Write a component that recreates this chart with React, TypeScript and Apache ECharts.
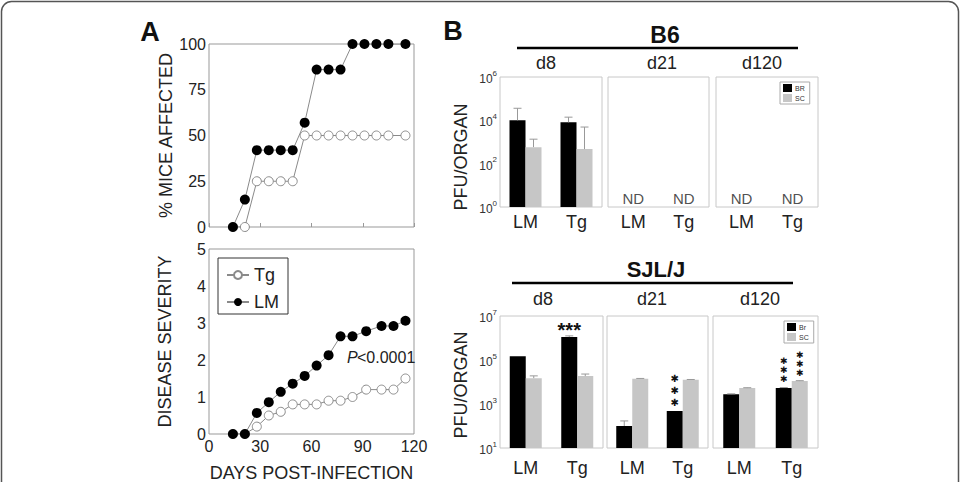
import React, { useEffect, useRef } from 'react';
import * as echarts from 'echarts';

const FONT = '"Liberation Sans", Arial, Helvetica, sans-serif';
const TXT = '#222';

// ---------- Panel A data ----------
const daysAffected = [14, 21, 28, 35, 42, 49, 56, 63, 70, 77, 84, 91, 98, 105, 115];
const lmAffected = [0, 15, 42, 42, 42, 42, 57, 86, 86, 86, 100, 100, 100, 100, 100];
const tgAffected = [0, 0, 25, 25, 25, 25, 50, 50, 50, 50, 50, 50, 50, 50, 50];

const daysSeverity = [14, 21, 28, 35, 42, 49, 56, 63, 70, 77, 84, 92, 101, 108, 115];
const lmSeverity = [0, 0, 0.57, 0.86, 1.14, 1.36, 1.57, 1.85, 2.13, 2.64, 2.64, 2.78, 2.92, 2.92, 3.06];
const tgSeverity = [0, 0, 0.2, 0.5, 0.6, 0.8, 0.8, 0.8, 0.9, 0.9, 1.0, 1.2, 1.2, 1.2, 1.5];

const affectedTicks = [0, 25, 50, 75, 100];
const severityTicks = [0, 1, 2, 3, 4, 5];
const dayTicks = [0, 30, 60, 90, 120];

// ---------- Panel B data ----------
const groups = ['LM', 'Tg'];
const timepoints = ['d8', 'd21', 'd120'];

// B6: [LM, Tg] for each timepoint (null = ND)
const b6Brain = [[1.0e4, 8.1e3], [null, null], [null, null]];
const b6BrainErr = [[3.6e4, 1.4e4], [null, null], [null, null]];
const b6Spinal = [[580, 470], [null, null], [null, null]];
const b6SpinalErr = [[1350, 4900], [null, null], [null, null]];
const b6TickExp = [0, 2, 4, 6];

// SJL/J
const sjlBrain = [[1.5e5, 1.1e6], [100, 480], [2800, 5400]];
const sjlBrainErr = [[null, 1.25e6], [170, null], [2900, 5600]];
const sjlSpinal = [[1.5e4, 1.85e4], [1.4e4, 1.25e4], [5300, 1.1e4]];
const sjlSpinalErr = [[1.9e4, 2.3e4], [1.45e4, 1.3e4], [5500, 1.15e4]];
const sjlBrainStars = [['', '***'], ['', '✱\n✱\n✱'], ['', '✱\n✱\n✱']];
const sjlSpinalStars = [['', ''], ['', ''], ['', '✱\n✱\n✱']];
const sjlTickExp = [1, 3, 5, 7];

function zip(xs: number[], ys: number[]) {
  return xs.map((x, i) => [x, ys[i]]);
}

function buildOption() {
  const b6Grids = [
    { left: 500, top: 77, width: 102, height: 130 },
    { left: 608, top: 77, width: 101, height: 130 },
    { left: 716, top: 77, width: 102, height: 130 },
  ];
  const sjlGrids = [
    { left: 500, top: 316, width: 103, height: 132 },
    { left: 607, top: 316, width: 101, height: 132 },
    { left: 713, top: 316, width: 105, height: 132 },
  ];
  const starStyle = [
    { fontSize: 10, lineHeight: 12, distance: 3 },
    { fontSize: 10, lineHeight: 12, distance: 3 },
    { fontSize: 9, lineHeight: 9, distance: 4 },
  ];

  const grid: any[] = [
    { left: 209, top: 44, width: 205, height: 183, show: true, borderColor: '#999', borderWidth: 1, outerBoundsMode: 'none' },
    { left: 209, top: 249, width: 205, height: 185, show: true, borderColor: '#999', borderWidth: 1, outerBoundsMode: 'none' },
    ...b6Grids.map((g) => ({ ...g, show: true, borderColor: '#c8c8c8', borderWidth: 1, outerBoundsMode: 'none' })),
    ...sjlGrids.map((g) => ({ ...g, show: true, borderColor: '#c8c8c8', borderWidth: 1, outerBoundsMode: 'none' })),
  ];

  const axisLabelA = { fontSize: 16, color: TXT, fontFamily: FONT };
  const xAxis: any[] = [
    {
      type: 'value', gridIndex: 0, min: dayTicks[0], max: dayTicks[dayTicks.length - 1], interval: 30,
      axisLine: { show: false }, axisTick: { show: true, inside: true, length: 4, lineStyle: { color: '#999' } },
      axisLabel: { show: false }, splitLine: { show: false },
    },
    {
      type: 'value', gridIndex: 1, min: dayTicks[0], max: dayTicks[dayTicks.length - 1], interval: 30,
      name: 'DAYS POST-INFECTION', nameLocation: 'middle', nameGap: 30,
      nameTextStyle: { fontSize: 18, color: TXT, fontFamily: FONT },
      axisLine: { show: false }, axisTick: { show: false },
      axisLabel: { ...axisLabelA, margin: 4, showMinLabel: true, showMaxLabel: true },
      splitLine: { show: false },
    },
  ];
  const yAxis: any[] = [
    {
      type: 'value', gridIndex: 0, min: affectedTicks[0], max: affectedTicks[affectedTicks.length - 1], interval: 25,
      name: '% MICE AFFECTED', nameLocation: 'middle', nameGap: 32, nameRotate: 90,
      nameTextStyle: { fontSize: 18, color: TXT, fontFamily: FONT },
      axisLine: { show: false }, axisTick: { show: false },
      axisLabel: { ...axisLabelA, margin: 3, showMinLabel: true, showMaxLabel: true }, splitLine: { show: false },
    },
    {
      type: 'value', gridIndex: 1, min: severityTicks[0], max: severityTicks[severityTicks.length - 1], interval: 1,
      name: 'DISEASE SEVERITY', nameLocation: 'middle', nameGap: 35, nameRotate: 90,
      nameTextStyle: { fontSize: 18, color: TXT, fontFamily: FONT },
      axisLine: { show: false }, axisTick: { show: false },
      axisLabel: { ...axisLabelA, margin: 3, showMinLabel: true, showMaxLabel: true }, splitLine: { show: false },
    },
  ];

  const series: any[] = [
    {
      type: 'line', name: 'Tg', xAxisIndex: 0, yAxisIndex: 0, data: zip(daysAffected, tgAffected),
      symbol: 'circle', symbolSize: 9, showAllSymbol: true, z: 2,
      lineStyle: { color: '#8a8a8a', width: 1 }, itemStyle: { color: '#fff', borderColor: '#8a8a8a', borderWidth: 1 },
    },
    {
      type: 'line', name: 'LM', xAxisIndex: 0, yAxisIndex: 0, data: zip(daysAffected, lmAffected),
      symbol: 'circle', symbolSize: 10, showAllSymbol: true, z: 3,
      lineStyle: { color: '#8a8a8a', width: 1 }, itemStyle: { color: '#000', borderColor: '#000', borderWidth: 0 },
    },
    {
      type: 'line', name: 'Tg', xAxisIndex: 1, yAxisIndex: 1, data: zip(daysSeverity, tgSeverity),
      symbol: 'circle', symbolSize: 9, showAllSymbol: true, z: 2,
      lineStyle: { color: '#8a8a8a', width: 1 }, itemStyle: { color: '#fff', borderColor: '#8a8a8a', borderWidth: 1 },
    },
    {
      type: 'line', name: 'LM', xAxisIndex: 1, yAxisIndex: 1, data: zip(daysSeverity, lmSeverity),
      symbol: 'circle', symbolSize: 10, showAllSymbol: true, z: 3,
      lineStyle: { color: '#8a8a8a', width: 1 }, itemStyle: { color: '#000', borderColor: '#000', borderWidth: 0 },
    },
  ];

  const logLabel = (shown: number[]) => (v: number) => {
    const e = Math.round(Math.log10(v));
    return shown.includes(e) ? `{b|10}{s|${e}}` : '';
  };
  const rich = {
    b: { fontSize: 12, color: '#333', fontFamily: FONT, lineHeight: 16, verticalAlign: 'bottom' },
    s: { fontSize: 8, color: '#333', fontFamily: FONT, lineHeight: 9, verticalAlign: 'top' },
  };

  const errSeries = (axisIdx: number, vals: (number | null)[], errs: (number | null)[], offset: number) => ({
    type: 'custom', name: `err-${axisIdx}-${offset}`, xAxisIndex: axisIdx, yAxisIndex: axisIdx, silent: true, z: 4,
    encode: { x: 0, y: 1 },
    data: vals
      .map((v, i) => (v != null && errs[i] != null ? [i, v, errs[i]] : null))
      .filter((d) => d != null),
    renderItem: (params: any, api: any) => {
      const p0 = api.coord([api.value(0), api.value(1)]);
      const p1 = api.coord([api.value(0), api.value(2)]);
      const x = p0[0] + offset;
      const st = { stroke: '#999', lineWidth: 1 };
      return {
        type: 'group',
        children: [
          { type: 'line', shape: { x1: x, y1: p0[1], x2: x, y2: p1[1] }, style: st },
          { type: 'line', shape: { x1: x - 4, y1: p1[1], x2: x + 4, y2: p1[1] }, style: st },
        ],
      };
    },
  });

  const starLabel = (s: string, t: number) => {
    if (!s) return { show: false };
    if (!s.includes('\n')) {
      return { show: true, position: 'top', formatter: s, fontSize: 20, fontWeight: 'bold', color: '#111', fontFamily: FONT, offset: [0, 8] };
    }
    const st = starStyle[t];
    return {
      show: true, position: 'top', formatter: s, fontSize: st.fontSize, lineHeight: st.lineHeight,
      distance: st.distance, color: '#111', fontFamily: '"DejaVu Sans", sans-serif',
    };
  };

  const addRow = (
    gridBase: number,
    brainName: string,
    brain: (number | null)[][],
    brainErr: (number | null)[][],
    spinal: (number | null)[][],
    spinalErr: (number | null)[][],
    brainStars: string[][] | null,
    spinalStars: string[][] | null,
    yMin: number,
    yMax: number,
    tickExp: number[],
    labelMargin: number,
  ) => {
    timepoints.forEach((tp, t) => {
      const idx = gridBase + t;
      xAxis.push({
        type: 'category', gridIndex: idx, data: groups,
        axisLine: { show: false }, axisTick: { show: false },
        axisLabel: { fontSize: 18, color: TXT, fontFamily: FONT, margin: labelMargin, interval: 0 },
        splitLine: { show: false },
      });
      yAxis.push({
        type: 'log', logBase: 10, gridIndex: idx, min: yMin, max: yMax, startValue: yMin,
        axisLine: { show: false }, axisTick: { show: false }, minorTick: { show: false },
        splitLine: { show: false }, minorSplitLine: { show: false },
        axisLabel: t === 0
          ? { show: true, formatter: logLabel(tickExp), rich, margin: 3, showMinLabel: true, showMaxLabel: true }
          : { show: false },
      });
      series.push({
        type: 'bar', name: brainName, xAxisIndex: idx, yAxisIndex: idx, barWidth: 16, barGap: '0%', z: 3,
        itemStyle: { color: '#000' },
        data: brain[t].map((v, i) =>
          v == null ? '-' : { value: v, label: starLabel(brainStars ? brainStars[t][i] : '', t) }),
      });
      series.push({
        type: 'bar', name: 'SC', xAxisIndex: idx, yAxisIndex: idx, barWidth: 16, barGap: '0%', z: 3,
        itemStyle: { color: '#c6c6c6' },
        data: spinal[t].map((v, i) =>
          v == null ? '-' : { value: v, label: starLabel(spinalStars ? spinalStars[t][i] : '', t) }),
      });
      series.push(errSeries(idx, brain[t], brainErr[t], -8));
      series.push(errSeries(idx, spinal[t], spinalErr[t], 8));
      const nd = brain[t].map((v, i) => (v == null ? [i, yMin] : null)).filter((d) => d != null);
      if (nd.length) {
        series.push({
          type: 'scatter', name: `nd-${idx}`, xAxisIndex: idx, yAxisIndex: idx, silent: true,
          symbolSize: 1, itemStyle: { color: 'rgba(0,0,0,0)' },
          label: { show: true, position: 'top', distance: 1, formatter: 'ND', fontSize: 15, color: TXT, fontFamily: FONT },
          data: nd,
        });
      }
    });
  };

  addRow(2, 'BR', b6Brain, b6BrainErr, b6Spinal, b6SpinalErr, null, null, 1, 1e6, b6TickExp, 6);
  addRow(5, 'Br', sjlBrain, sjlBrainErr, sjlSpinal, sjlSpinalErr, sjlBrainStars, sjlSpinalStars, 10, 1e7, sjlTickExp, 11);

  const smallLegend = (names: string[], left: number, top: number) => ({
    data: names, orient: 'vertical', left, top, icon: 'rect', itemWidth: 9, itemHeight: 8, itemGap: 2,
    padding: [2, 5, 2, 3], borderColor: '#aaa', borderWidth: 1, backgroundColor: '#fff',
    textStyle: { fontSize: 7, color: '#333', fontFamily: FONT, padding: [0, 0, 0, -2] }, selectedMode: false,
  });

  const legend = [
    {
      data: ['Tg', 'LM'], orient: 'vertical', left: 218, top: 258, padding: [8, 9, 3, 8], itemGap: 9,
      itemWidth: 22, itemHeight: 10, borderColor: '#333', borderWidth: 1, backgroundColor: '#fff',
      textStyle: { fontSize: 18, color: TXT, fontFamily: FONT }, selectedMode: false,
    },
    smallLegend(['BR', 'SC'], 780, 82),
    smallLegend(['Br', 'SC'], 784, 321),
  ];

  const txt = (text: string, x: number, y: number, size: number, extra: any = {}) => ({
    type: 'text', x, y, silent: true,
    style: { text, fontSize: size, fontFamily: FONT, fill: TXT, align: 'center', verticalAlign: 'middle', ...extra },
  });

  const graphic = [
    { type: 'rect', silent: true, shape: { x: 1.5, y: 1.5, width: 957, height: 520, r: 10 }, style: { fill: 'none', stroke: '#555', lineWidth: 1.5 } },
    txt('A', 150, 32, 27, { fontWeight: 'bold', fill: '#111' }),
    txt('B', 453, 31, 27, { fontWeight: 'bold', fill: '#111' }),
    txt('B6', 665, 35, 23, { fontWeight: 'bold', fill: '#111' }),
    { type: 'line', silent: true, shape: { x1: 517, y1: 48, x2: 798, y2: 48 }, style: { stroke: '#000', lineWidth: 2.5 } },
    txt(timepoints[0], 546, 63, 18),
    txt(timepoints[1], 662, 63, 18),
    txt(timepoints[2], 762, 63, 18),
    txt('SJL/J', 656, 269, 22, { fontWeight: 'bold', fill: '#111' }),
    { type: 'line', silent: true, shape: { x1: 512, y1: 283, x2: 793, y2: 283 }, style: { stroke: '#000', lineWidth: 2.5 } },
    txt(timepoints[0], 543, 299, 18),
    txt(timepoints[1], 652, 299, 18),
    txt(timepoints[2], 760, 299, 18),
    { ...txt('PFU/ORGAN', 461, 157, 18), rotation: Math.PI / 2 },
    { ...txt('PFU/ORGAN', 461, 385, 18), rotation: Math.PI / 2 },
    txt('P', 347, 357, 16, { fontStyle: 'italic', align: 'left' }),
    txt('<0.0001', 357, 357, 16, { align: 'left' }),
  ];

  return {
    animation: false,
    backgroundColor: '#fff',
    textStyle: { fontFamily: FONT },
    grid,
    xAxis,
    yAxis,
    legend,
    series,
    graphic,
  };
}

export default function App() {
  const ref = useRef<HTMLDivElement>(null);
  useEffect(() => {
    const chart = echarts.init(ref.current!, null, { renderer: 'svg' });
    chart.setOption(buildOption() as any);
    return () => chart.dispose();
  }, []);
  return (
    <div
      ref={ref}
      style={{ position: 'fixed', left: 0, top: 0, width: 961, height: 482, background: '#fff' }}
    />
  );
}
